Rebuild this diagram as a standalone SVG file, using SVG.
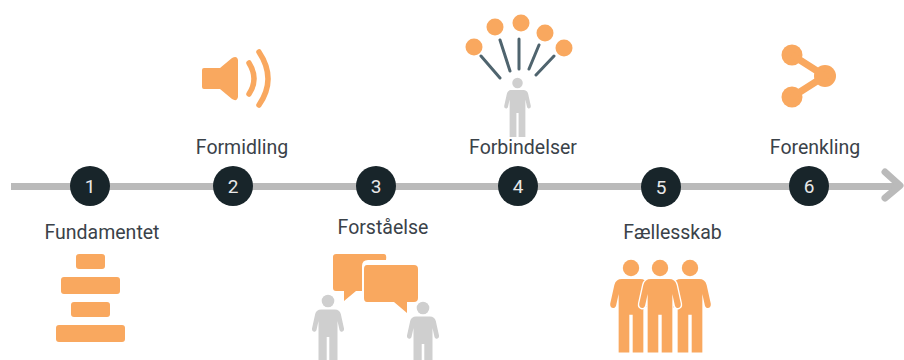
<svg xmlns="http://www.w3.org/2000/svg" width="904" height="360" viewBox="0 0 904 360">
<style>
.o{fill:#f9a85f}
.g{fill:#cfcfcf}
.t{font-family:Roboto,"Liberation Sans",sans-serif;font-size:19.5px;fill:#3a4249;text-anchor:middle}
.n{font-family:Roboto,"Liberation Sans",sans-serif;font-size:19px;fill:#e8e8e8;text-anchor:middle}
.c{fill:#18252a}
.ln{stroke:#bababa;stroke-width:7;fill:none;stroke-linejoin:round}
.head{stroke-linecap:round}
.ray{stroke:#4f646e;stroke-width:3;stroke-linecap:round;fill:none}
.wave{stroke:#f9a85f;stroke-width:5.500;stroke-linecap:round;fill:none}
.halo{fill:#fff;stroke:#fff;stroke-width:2}
</style>
<defs>
<g id="person">
<circle cx="0" cy="0" r="6.300"/>
<path d="M-7 8.500H7C10 8.500 12 10 12.800 13L16 27.500C16.500 31 12.500 32 11.500 29L9.500 20V65H1.300V36H-1.300V65H-9.500V20L-11.500 29C-12.500 32-16.500 31-16 27.500L-12.800 13C-12 10-10 8.500-7 8.500Z"/>
</g>
</defs>
<g id="connectors">
<path class="ln" d="M11 186.500H896"/>
<path class="ln head" d="M885 172L900 185.500L885 198"/>
</g>
<g id="node-1">
<circle class="c" cx="90" cy="186" r="20"/><text class="n" x="90" y="193">1</text>
<text class="t" x="102" y="239">Fundamentet</text>
<rect class="o" x="76" y="254" width="29" height="15" rx="3"/>
<rect class="o" x="61" y="277" width="59" height="17" rx="3"/>
<rect class="o" x="71" y="302" width="39" height="15" rx="3"/>
<rect class="o" x="56" y="325" width="69" height="17" rx="3"/>
</g>
<g id="node-2">
<circle class="c" cx="233" cy="186" r="20"/><text class="n" x="233" y="193">2</text>
<text class="t" x="242" y="154">Formidling</text>
<path class="o" d="M204 68H220L232 58Q237 55 238 60V97Q237 102 232 99L220 89H204Q202 89 202 87V70Q202 68 204 68Z"/>
<path class="wave" d="M249 63Q259 79 249 94"/>
<path class="wave" d="M259 52Q277 79 259 105"/>
</g>
<g id="node-3">
<circle class="c" cx="376" cy="186" r="20"/><text class="n" x="376" y="193">3</text>
<text class="t" x="383" y="234">Forståelse</text>
<path class="o" d="M336 254H384Q387 254 386 260H368Q362 260 362 266V291H356L344 301V291H336Q333 291 333 288V257Q333 254 336 254Z"/>
<path class="o" d="M367 265H414Q418 265 418 269V298Q418 302 414 302H407V313L394 302H367Q364 302 364 298V269Q364 265 367 265Z"/>
<use href="#person" class="g" transform="translate(328 301)"/>
<use href="#person" class="g" transform="translate(423 308)"/>
</g>
<g id="node-4">
<circle class="c" cx="518" cy="186" r="20"/><text class="n" x="518" y="193">4</text>
<text class="t" x="523" y="154">Forbindelser</text>
<circle class="o" cx="474" cy="47" r="8.500"/>
<circle class="o" cx="495" cy="27" r="8.500"/>
<circle class="o" cx="521" cy="23" r="8.500"/>
<circle class="o" cx="545" cy="33" r="8.500"/>
<circle class="o" cx="564" cy="48" r="8.500"/>
<path class="ray" d="M481 56L500 78M500 40L510 71M519 39V69M539 45L529 69M554 56L536 75"/>
<use href="#person" class="g" transform="translate(517.500 83) scale(.83)"/>
</g>
<g id="node-5">
<circle class="c" cx="661" cy="187" r="20"/><text class="n" x="661" y="194">5</text>
<text class="t" x="672.500" y="239">Fællesskab</text>
<use href="#person" class="o" transform="translate(631 268) scale(1.300)"/>
<use href="#person" class="o" transform="translate(690 268) scale(1.300)"/>
<use href="#person" class="halo" transform="translate(660 268) scale(1.300)"/>
<use href="#person" class="o" transform="translate(660 268) scale(1.300)"/>
</g>
<g id="node-6">
<circle class="c" cx="809" cy="186" r="20"/><text class="n" x="809" y="193">6</text>
<text class="t" x="815" y="154">Forenkling</text>
<circle class="o" cx="792" cy="55" r="10.500"/><circle class="o" cx="825" cy="76" r="11"/><circle class="o" cx="792" cy="97" r="10.500"/>
<path d="M792 55L825 76L792 97" fill="none" stroke="#f9a85f" stroke-width="7"/>
</g>
</svg>
